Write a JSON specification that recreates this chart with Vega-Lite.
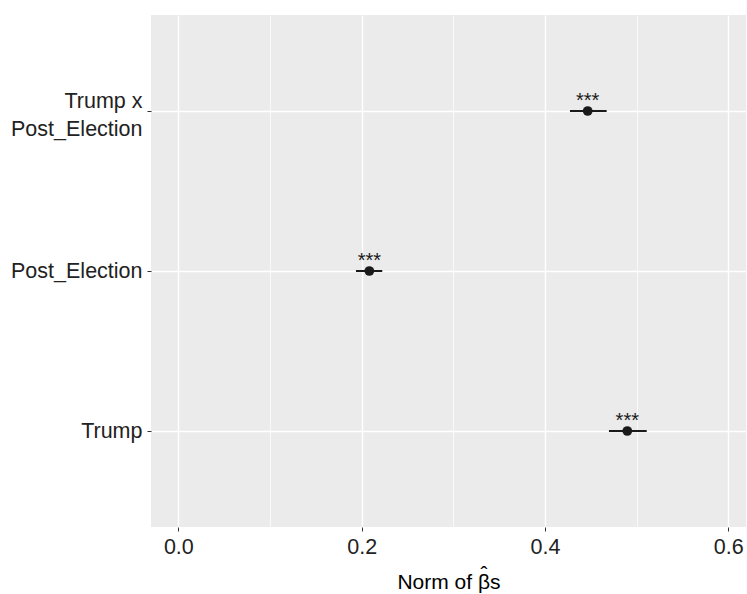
{
  "$schema": "https://vega.github.io/schema/vega-lite/v6.json",
  "width": 595,
  "height": 512,
  "autosize": {"type": "none"},
  "padding": {"left": 151, "top": 15, "right": 1, "bottom": 67},
  "background": "white",
  "config": {
    "view": {"fill": "#EBEBEB", "stroke": null},
    "font": "Liberation Sans"
  },
  "data": {
    "values": [
      {"term": "Trump x Post_Election", "est": 0.4466, "lo": 0.4273, "hi": 0.4673, "stars": "***"},
      {"term": "Post_Election", "est": 0.2084, "lo": 0.1938, "hi": 0.2225, "stars": "***"},
      {"term": "Trump", "est": 0.4898, "lo": 0.4698, "hi": 0.5110, "stars": "***"}
    ]
  },
  "encoding": {
    "y": {
      "field": "term",
      "type": "nominal",
      "sort": ["Trump x Post_Election", "Post_Election", "Trump"],
      "scale": {"type": "point", "padding": 0.6},
      "axis": {
        "title": null,
        "domain": false,
        "grid": true,
        "gridColor": "white",
        "gridWidth": 1.4,
        "tickColor": "#333333",
        "tickSize": 4,
        "tickWidth": 1,
        "labelPadding": 5,
        "labelFontSize": 21.5,
        "labelColor": "#222222",
        "labelFont": "Liberation Sans",
        "labelLineHeight": 28,
        "labelBaseline": "middle",
        "labelOffset": {"condition": {"test": "datum.label == 'Trump x Post_Election'", "value": -10}, "value": 0},
        "labelExpr": "datum.label == 'Trump x Post_Election' ? ['Trump x', 'Post_Election'] : datum.label"
      }
    }
  },
  "layer": [
    {
      "mark": {"type": "rule", "strokeWidth": 2, "color": "#1a1a1a"},
      "encoding": {
        "x": {
          "field": "lo",
          "type": "quantitative",
          "scale": {"domain": [-0.0298, 0.6193], "nice": false, "zero": false},
          "axis": {
            "title": ["\u200b\u00a0\u00a0\u00a0\u00a0\u00a0\u00a0\u00a0\u00a0\u00a0\u00a0\u00a0\u00a0\u02c6", "Norm of \u03b2s"],
            "titleFontSize": 21,
            "titleFontWeight": "normal",
            "titleColor": "#000000",
            "titleFont": "Liberation Sans",
            "titleLineHeight": 8,
            "titlePadding": 6,
            "values": [0, 0.1, 0.2, 0.3, 0.4, 0.5, 0.6],
            "domain": false,
            "grid": true,
            "gridColor": "white",
            "gridWidth": {"condition": {"test": "round(datum.value*10) % 2 === 1", "value": 0.7}, "value": 1.4},
            "tickColor": "#333333",
            "tickOpacity": {"condition": {"test": "round(datum.value*10) % 2 === 1", "value": 0}, "value": 1},
            "tickSize": 4,
            "labelPadding": 5,
            "labelFontSize": 21.5,
            "labelColor": "#222222",
            "labelFont": "Liberation Sans",
            "labelExpr": "round(datum.value*10) % 2 === 1 ? '' : format(datum.value, '.1f')"
          }
        },
        "x2": {"field": "hi"}
      }
    },
    {
      "mark": {"type": "point", "filled": true, "size": 95, "color": "#1a1a1a", "opacity": 1},
      "encoding": {
        "x": {"field": "est", "type": "quantitative"}
      }
    },
    {
      "mark": {"type": "text", "fontSize": 20, "font": "Liberation Sans", "baseline": "alphabetic", "align": "center", "dy": -4, "color": "#1a1a1a"},
      "encoding": {
        "x": {"field": "est", "type": "quantitative"},
        "text": {"field": "stars"}
      }
    }
  ]
}
